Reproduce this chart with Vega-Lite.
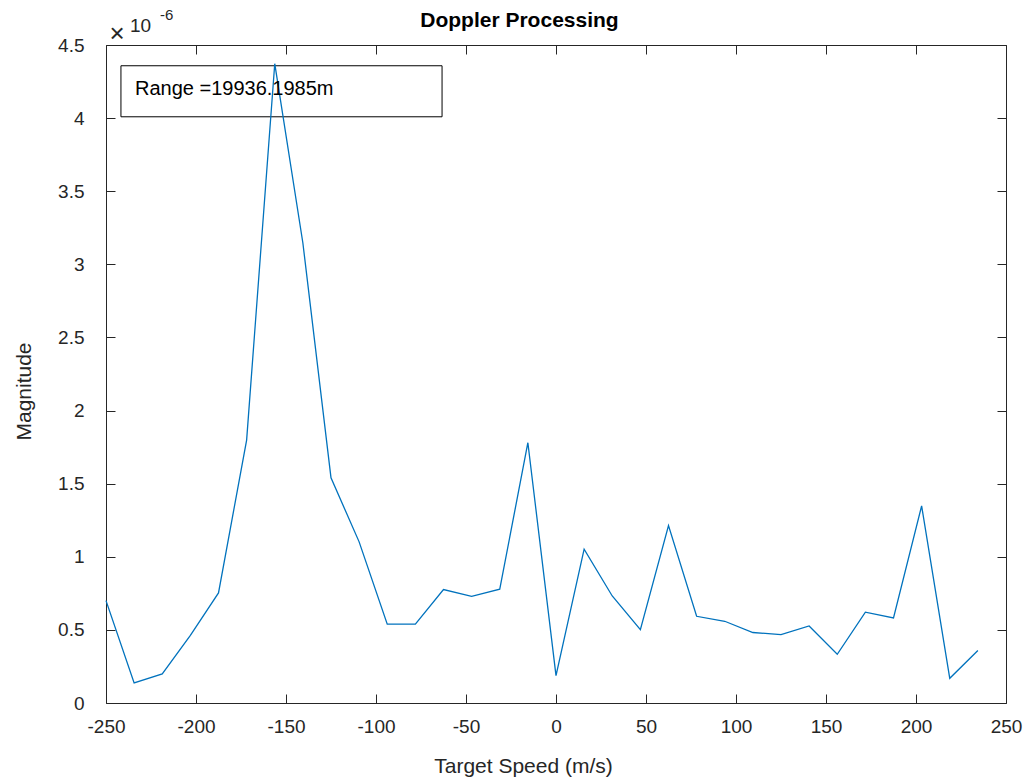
{
  "$schema": "https://vega.github.io/schema/vega-lite/v6.json",
  "width": 900,
  "height": 658,
  "autosize": {"type": "none"},
  "padding": {"left": 106, "top": 45, "right": 17, "bottom": 75},
  "background": "white",
  "config": {
    "view": {"stroke": null},
    "font": "Liberation Sans",
    "axis": {
      "grid": false,
      "domainColor": "#262626",
      "domainWidth": 1,
      "tickColor": "#262626",
      "tickWidth": 1,
      "tickSize": -9,
      "labelColor": "#262626",
      "labelFont": "Liberation Sans",
      "labelFontSize": 19,
      "titleFont": "Liberation Sans",
      "titleFontSize": 21,
      "titleFontWeight": "normal",
      "titleColor": "#262626"
    }
  },
  "layer": [
    {
      "data": {"values": [{"note": "box"}]},
      "mark": {"type": "rect", "fillOpacity": 0, "stroke": "#000000", "strokeWidth": 1},
      "encoding": {
        "x": {
          "datum": -241.7, "type": "quantitative",
          "scale": {"domain": [-250, 250], "nice": false, "zero": false},
          "axis": {"orient": "top", "labels": false, "title": null, "values": [-250, -200, -150, -100, -50, 0, 50, 100, 150, 200, 250]}
        },
        "x2": {"datum": -63.3},
        "y": {
          "datum": 4.358, "type": "quantitative",
          "scale": {"domain": [0, 4.5], "nice": false, "zero": false},
          "axis": {"orient": "right", "labels": false, "title": null, "values": [0, 0.5, 1, 1.5, 2, 2.5, 3, 3.5, 4, 4.5]}
        },
        "y2": {"datum": 4.009}
      }
    },
    {
      "data": {
        "values": [
          {"speed": -250, "magnitude": 0.70},
          {"speed": -234.375, "magnitude": 0.137},
          {"speed": -218.75, "magnitude": 0.199},
          {"speed": -203.125, "magnitude": 0.463},
          {"speed": -187.5, "magnitude": 0.753},
          {"speed": -171.875, "magnitude": 1.798},
          {"speed": -156.25, "magnitude": 4.372},
          {"speed": -140.625, "magnitude": 3.146},
          {"speed": -125, "magnitude": 1.540},
          {"speed": -109.375, "magnitude": 1.102},
          {"speed": -93.75, "magnitude": 0.539},
          {"speed": -78.125, "magnitude": 0.539},
          {"speed": -62.5, "magnitude": 0.776},
          {"speed": -46.875, "magnitude": 0.730},
          {"speed": -31.25, "magnitude": 0.778},
          {"speed": -15.625, "magnitude": 1.780},
          {"speed": 0, "magnitude": 0.187},
          {"speed": 15.625, "magnitude": 1.052},
          {"speed": 31.25, "magnitude": 0.732},
          {"speed": 46.875, "magnitude": 0.502},
          {"speed": 62.5, "magnitude": 1.214},
          {"speed": 78.125, "magnitude": 0.593},
          {"speed": 93.75, "magnitude": 0.559},
          {"speed": 109.375, "magnitude": 0.482},
          {"speed": 125, "magnitude": 0.468},
          {"speed": 140.625, "magnitude": 0.527},
          {"speed": 156.25, "magnitude": 0.333},
          {"speed": 171.875, "magnitude": 0.621},
          {"speed": 187.5, "magnitude": 0.582},
          {"speed": 203.125, "magnitude": 1.348},
          {"speed": 218.75, "magnitude": 0.169},
          {"speed": 234.375, "magnitude": 0.359}
        ]
      },
      "mark": {"type": "line", "color": "#0072BD", "strokeWidth": 1.3},
      "encoding": {
        "x": {
          "field": "speed", "type": "quantitative", "title": "Target Speed (m/s)",
          "axis": {
            "orient": "bottom",
            "values": [-250, -200, -150, -100, -50, 0, 50, 100, 150, 200, 250],
            "labelExpr": "datum.value + ''",
            "labelPadding": 23,
            "labelFlush": false,
            "titleX": 417,
            "titleY": 69,
            "titleBaseline": "alphabetic"
          }
        },
        "y": {
          "field": "magnitude", "type": "quantitative", "title": "Magnitude",
          "axis": {
            "orient": "left",
            "values": [0, 0.5, 1, 1.5, 2, 2.5, 3, 3.5, 4, 4.5],
            "labelExpr": "datum.value + ''",
            "labelPadding": 31,
            "labelFlush": false,
            "titleX": -76,
            "titleY": 346,
            "titleAngle": -90,
            "titleAlign": "center",
            "titleBaseline": "alphabetic"
          }
        }
      }
    },
    {
      "data": {"values": [{"label": "Doppler Processing"}]},
      "mark": {"type": "text", "align": "center", "baseline": "alphabetic", "fontSize": 21, "fontWeight": "bold", "color": "#000000", "font": "Liberation Sans"},
      "encoding": {
        "text": {"field": "label"},
        "x": {"datum": -20.3, "type": "quantitative", "axis": null},
        "y": {"datum": 4.625, "type": "quantitative", "axis": null}
      }
    },
    {
      "data": {"values": [{"label": "Range =19936.1985m"}]},
      "mark": {"type": "text", "align": "left", "baseline": "alphabetic", "fontSize": 20, "color": "#000000", "font": "Liberation Sans"},
      "encoding": {
        "text": {"field": "label"},
        "x": {"datum": -233.9, "type": "quantitative", "axis": null},
        "y": {"datum": 4.159, "type": "quantitative", "axis": null}
      }
    },
    {
      "data": {"values": [{"label": "×"}]},
      "mark": {"type": "text", "align": "center", "baseline": "alphabetic", "fontSize": 26, "color": "#262626", "font": "Liberation Sans"},
      "encoding": {
        "text": {"field": "label"},
        "x": {"datum": -243.9, "type": "quantitative", "axis": null},
        "y": {"datum": 4.521, "type": "quantitative", "axis": null}
      }
    },
    {
      "data": {"values": [{"label": "10"}]},
      "mark": {"type": "text", "align": "left", "baseline": "alphabetic", "fontSize": 19, "color": "#262626", "font": "Liberation Sans"},
      "encoding": {
        "text": {"field": "label"},
        "x": {"datum": -236.7, "type": "quantitative", "axis": null},
        "y": {"datum": 4.591, "type": "quantitative", "axis": null}
      }
    },
    {
      "data": {"values": [{"label": "-6"}]},
      "mark": {"type": "text", "align": "left", "baseline": "alphabetic", "fontSize": 15, "color": "#262626", "font": "Liberation Sans"},
      "encoding": {
        "text": {"field": "label"},
        "x": {"datum": -220, "type": "quantitative", "axis": null},
        "y": {"datum": 4.673, "type": "quantitative", "axis": null}
      }
    }
  ],
  "resolve": {"axis": {"x": "independent", "y": "independent"}}
}
